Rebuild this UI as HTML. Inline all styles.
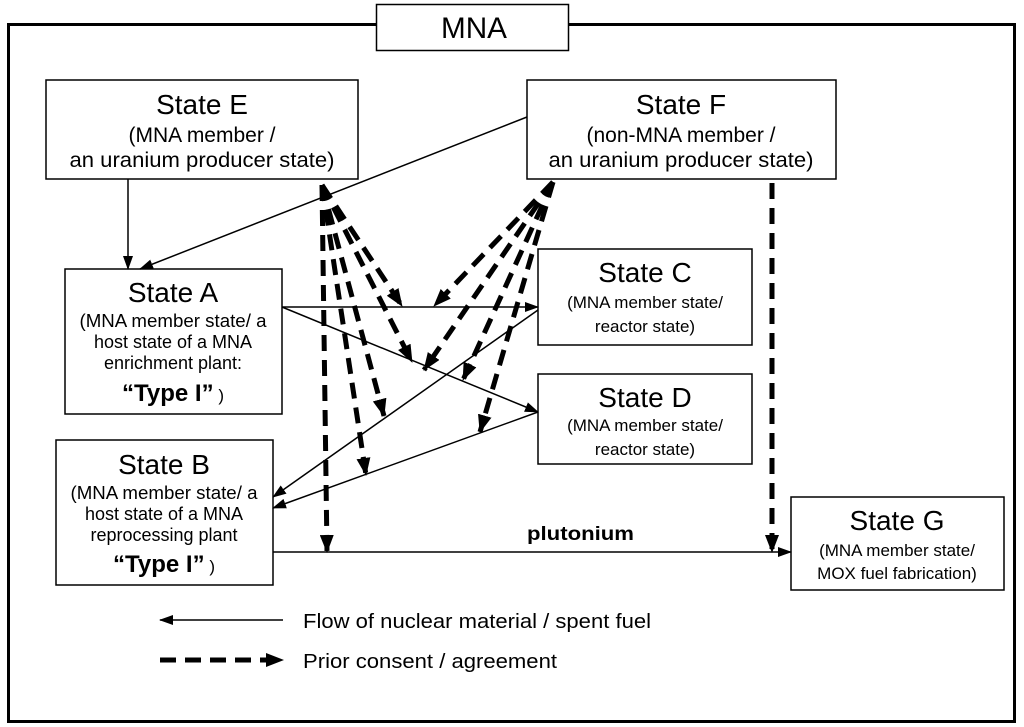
<!DOCTYPE html>
<html><head><meta charset="utf-8"><style>
html,body{margin:0;padding:0;background:#fff;}
svg{display:block;font-family:"Liberation Sans",Arial,sans-serif;}
</style></head><body>
<svg width="1024" height="727" viewBox="0 0 1024 727" xmlns="http://www.w3.org/2000/svg">
<defs>
<marker id="a" markerWidth="14" markerHeight="10" refX="13" refY="5" orient="auto" markerUnits="userSpaceOnUse"><path d="M0,0 L14,5 L0,10 z" fill="#000"/></marker>
<marker id="b" markerWidth="18" markerHeight="14" refX="17" refY="7" orient="auto" markerUnits="userSpaceOnUse"><path d="M0,0 L18,7 L0,14 z" fill="#000"/></marker>
</defs>
<rect x="8.5" y="24.5" width="1006" height="697" fill="none" stroke="#000" stroke-width="3"/>
<rect x="376.5" y="4.5" width="192" height="46" fill="#fff" stroke="#000" stroke-width="1.5"/>
<text x="474" y="38" font-size="30" text-anchor="middle" textLength="66" lengthAdjust="spacingAndGlyphs">MNA</text>

<g fill="#fff" stroke="#000" stroke-width="1.5">
<rect x="46" y="80" width="312" height="99"/>
<rect x="527" y="80" width="309" height="99"/>
<rect x="65" y="269" width="217" height="145"/>
<rect x="538" y="249" width="214" height="96"/>
<rect x="538" y="374" width="214" height="90"/>
<rect x="56" y="440" width="217" height="145"/>
<rect x="791" y="497" width="213" height="93"/>
</g>

<g text-anchor="middle" fill="#000">
<text x="202" y="114" font-size="28">State E</text>
<text x="202" y="142" font-size="21">(MNA member /</text>
<text x="202" y="167" font-size="21" textLength="265" lengthAdjust="spacingAndGlyphs">an uranium producer state)</text>
<text x="681" y="114" font-size="28">State F</text>
<text x="681" y="142" font-size="21">(non-MNA member /</text>
<text x="681" y="167" font-size="21" textLength="265" lengthAdjust="spacingAndGlyphs">an uranium producer state)</text>
<text x="173" y="302" font-size="28">State A</text>
<text x="173" y="327" font-size="18" textLength="187" lengthAdjust="spacingAndGlyphs">(MNA member state/ a</text>
<text x="173" y="348" font-size="18">host state of a MNA</text>
<text x="173" y="369" font-size="18">enrichment plant:</text>
<text x="173" y="401" font-size="24"><tspan font-weight="bold">“Type I”</tspan><tspan font-size="17"> )</tspan></text>
<text x="645" y="282" font-size="28">State C</text>
<text x="645" y="308" font-size="17">(MNA member state/</text>
<text x="645" y="332" font-size="17">reactor state)</text>
<text x="645" y="407" font-size="28">State D</text>
<text x="645" y="431" font-size="17">(MNA member state/</text>
<text x="645" y="455" font-size="17">reactor state)</text>
<text x="164" y="474" font-size="28">State B</text>
<text x="164" y="499" font-size="18" textLength="187" lengthAdjust="spacingAndGlyphs">(MNA member state/ a</text>
<text x="164" y="520" font-size="18">host state of a MNA</text>
<text x="164" y="541" font-size="18">reprocessing plant</text>
<text x="164" y="572" font-size="24"><tspan font-weight="bold">“Type I”</tspan><tspan font-size="17"> )</tspan></text>
<text x="897" y="530" font-size="28">State G</text>
<text x="897" y="556" font-size="17">(MNA member state/</text>
<text x="897" y="579" font-size="17">MOX fuel fabrication)</text>
</g>
<text x="527" y="540" font-size="19" font-weight="bold" textLength="107" lengthAdjust="spacingAndGlyphs">plutonium</text>

<g stroke="#000" stroke-width="1.5" fill="none" marker-end="url(#a)">
<line x1="128" y1="179" x2="128" y2="269"/>
<line x1="527" y1="117" x2="140" y2="269"/>
<line x1="282" y1="307" x2="538" y2="307"/>
<line x1="282" y1="307" x2="538" y2="412"/>
<line x1="538" y1="310" x2="273" y2="497"/>
<line x1="538" y1="412" x2="273" y2="508"/>
<line x1="273" y1="552" x2="791" y2="552"/>
<line x1="283" y1="620" x2="160" y2="620"/>
</g>

<g stroke="#000" stroke-width="5" fill="none" stroke-dasharray="16,9" marker-end="url(#b)">
<line x1="322" y1="185" x2="402" y2="306"/>
<line x1="322" y1="185" x2="412" y2="362"/>
<line x1="322" y1="185" x2="384" y2="416"/>
<line x1="322" y1="185" x2="366" y2="475"/>
<line x1="322" y1="185" x2="327" y2="552"/>
<line x1="553" y1="182" x2="434" y2="306"/>
<line x1="553" y1="182" x2="424" y2="370"/>
<line x1="553" y1="182" x2="463" y2="380"/>
<line x1="553" y1="182" x2="480" y2="432"/>
<line x1="772" y1="183" x2="772" y2="552"/>
<line x1="160" y1="660" x2="283" y2="660"/>
</g>

<text x="303" y="628" font-size="20" textLength="348" lengthAdjust="spacingAndGlyphs">Flow of nuclear material / spent fuel</text>
<text x="303" y="668" font-size="20" textLength="254" lengthAdjust="spacingAndGlyphs">Prior consent / agreement</text>
</svg>
</body></html>
